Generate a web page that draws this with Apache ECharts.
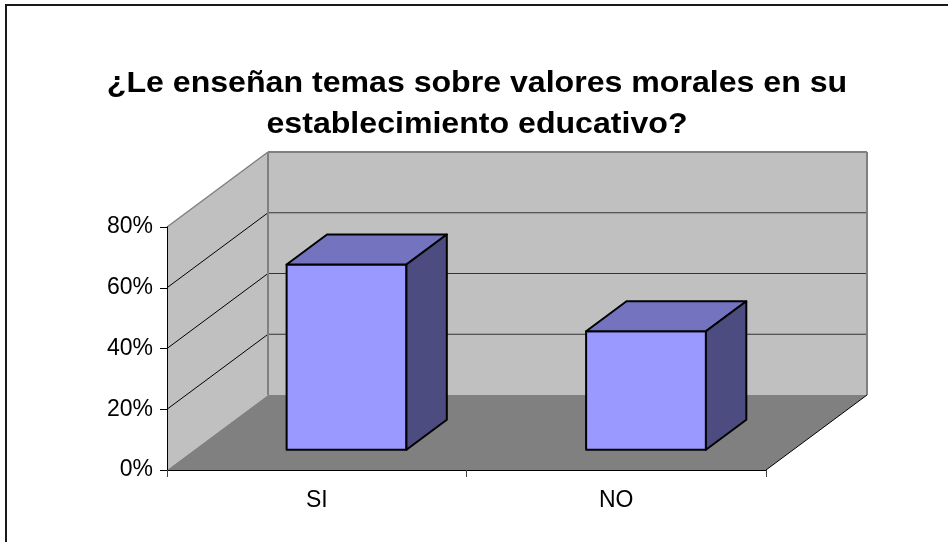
<!DOCTYPE html>
<html>
<head>
<meta charset="utf-8">
<script src="https://cdn.jsdelivr.net/npm/echarts@6/dist/echarts.min.js"></script>
<style>html,body{margin:0;padding:0;background:#fff}#c{width:948px;height:542px}</style>
</head>
<body>
<div id="c"></div>
<script>
var titleLines = ['¿Le enseñan temas sobre valores morales en su', 'establecimiento educativo?'];
var categories = ['SI', 'NO'];
var values = [61, 39];
var yTicks = [0, 20, 40, 60, 80];

var FONT = "'Liberation Sans', Arial, sans-serif";
var DX = 101, DY = -75;

var chart = echarts.init(document.getElementById('c'), null, {renderer: 'canvas'});

function renderWalls(params, api) {
  var cs = params.coordSys;
  var x0 = cs.x, x1 = cs.x + cs.width, yT = cs.y, yB = cs.y + cs.height;
  var ch = [];
  ch.push({type: 'polygon', shape: {points: [[x0, yB], [x0, yT], [x0 + DX, yT + DY], [x0 + DX, yB + DY]]},
    style: {fill: '#c0c0c0', stroke: null}});
  ch.push({type: 'rect', shape: {x: x0 + DX, y: yT + DY, width: cs.width, height: cs.height},
    style: {fill: '#c0c0c0', stroke: null}});
  ch.push({type: 'polygon', shape: {points: [[x0, yB], [x1, yB], [x1 + DX, yB + DY], [x0 + DX, yB + DY]]},
    style: {fill: '#808080', stroke: null}});
  for (var i = 0; i < yTicks.length; i++) {
    var v = yTicks[i];
    var y = api.coord([0, v])[1];
    if (v === 0) continue;
    var last = (i === yTicks.length - 1);
    ch.push({type: 'line', shape: {x1: x0, y1: y, x2: x0 + DX, y2: y + DY},
      style: {stroke: last ? '#808080' : '#000', lineWidth: last ? 1.5 : 1}});
    ch.push({type: 'line', shape: {x1: x0 + DX, y1: y + DY, x2: x1 + DX, y2: y + DY},
      style: {stroke: last ? '#808080' : '#333', lineWidth: last ? 2 : 1.2}});
  }
  ch.push({type: 'line', shape: {x1: x0 + DX, y1: yT + DY, x2: x0 + DX, y2: yB + DY},
    style: {stroke: '#808080', lineWidth: 2}});
  ch.push({type: 'line', shape: {x1: x1 + DX, y1: yT + DY, x2: x1 + DX, y2: yB + DY},
    style: {stroke: '#808080', lineWidth: 2}});
  ch.push({type: 'line', shape: {x1: x1, y1: yB, x2: x1 + DX, y2: yB + DY},
    style: {stroke: '#000', lineWidth: 1}});
  return {type: 'group', children: ch};
}

function renderBar(params, api) {
  var idx = api.value(0), v = api.value(1);
  var base = api.coord([idx, 0]);
  var top = api.coord([idx, v]);
  var band = api.size([1, 0])[0];
  var w = band * 0.4;
  var cx = base[0] + 2.5;
  var t0 = 0.27, t1 = 0.67;
  var fx0 = cx - w / 2 + DX * t0, fx1 = cx + w / 2 + DX * t0;
  var fyB = base[1] + DY * t0, fyT = top[1] + DY * t0;
  var bdx = DX * (t1 - t0), bdy = DY * (t1 - t0);
  var st = {stroke: '#000', lineWidth: 2, lineJoin: 'round'};
  return {type: 'group', children: [
    {type: 'polygon', shape: {points: [[fx0, fyB], [fx0, fyT], [fx1, fyT], [fx1, fyB]]},
      style: Object.assign({fill: '#9999ff'}, st)},
    {type: 'polygon', shape: {points: [[fx0, fyT], [fx0 + bdx, fyT + bdy], [fx1 + bdx, fyT + bdy], [fx1, fyT]]},
      style: Object.assign({fill: '#7373bf'}, st)},
    {type: 'polygon', shape: {points: [[fx1, fyT], [fx1 + bdx, fyT + bdy], [fx1 + bdx, fyB + bdy], [fx1, fyB]]},
      style: Object.assign({fill: '#4c4c80'}, st)}
  ]};
}

var titleGraphics = titleLines.map(function (t, i) {
  return {type: 'text', x: 477, y: 84 + i * 41, scaleX: 1.07, z: 100,
    style: {text: t, font: 'bold 30px ' + FONT, fill: '#000', textAlign: 'center', textVerticalAlign: 'middle'}};
});

var option = {
  backgroundColor: '#fff',
  animation: false,
  grid: {left: 167, right: 182, top: 227, bottom: 72},
  xAxis: {
    type: 'category', data: categories, z: 10,
    axisLine: {lineStyle: {color: '#000', width: 1}},
    axisTick: {show: true, length: 7, lineStyle: {color: '#404040'}},
    axisLabel: {fontFamily: FONT, fontSize: 23, color: '#000', margin: 19},
    splitLine: {show: false}
  },
  yAxis: {
    type: 'value', min: 0, max: 80, interval: 20, z: 10,
    axisLine: {show: true, lineStyle: {color: '#000', width: 1}},
    axisTick: {show: true, length: 7, lineStyle: {color: '#000'}},
    axisLabel: {fontFamily: FONT, fontSize: 23, color: '#000', margin: 14, formatter: '{value}%'},
    splitLine: {show: false}
  },
  graphic: [{type: 'rect', shape: {x: 6, y: 5, width: 1000, height: 1000},
    style: {fill: null, stroke: '#1a1a1a', lineWidth: 2}, z: 100}].concat(titleGraphics),
  series: [
    {type: 'custom', name: 'walls', renderItem: renderWalls, data: [[0, 0]], z: 1, silent: true},
    {type: 'custom', name: 'bars', renderItem: renderBar, z: 3,
      data: categories.map(function (c, i) { return [i, values[i]]; }),
      encode: {x: 0, y: 1}}
  ]
};
chart.setOption(option);
</script>
</body>
</html>
